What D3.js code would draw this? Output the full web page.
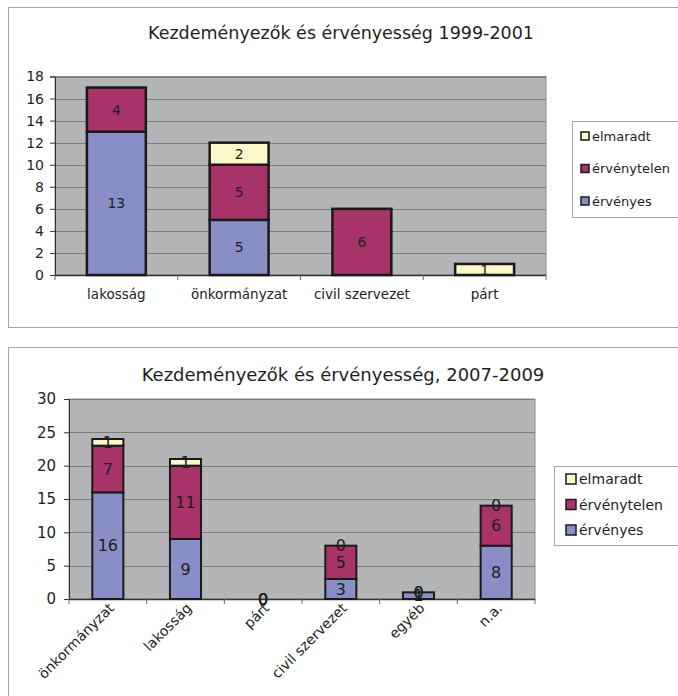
<!DOCTYPE html>
<html lang="hu">
<head>
<meta charset="UTF-8">
<title>Kezdeményezők és érvényesség</title>
<style>
    body { margin: 0; background: #fff; }
    svg text { font-family: "DejaVu Sans", sans-serif; fill: #1e1e1e; }
</style>
<script src="https://cdn.jsdelivr.net/npm/d3@7"></script>
</head>
<body>
<svg width="678" height="696"></svg>
<script>
// --- data, top chart (1999-2001)
var catsA = ["lakosság", "önkormányzat", "civil szervezet", "párt"];
var ervenyesA = [13, 5, 0, 0];
var ervenytelenA = [4, 5, 6, 0];
var elmaradtA = [0, 2, 0, 1];
var ticksA = [0, 2, 4, 6, 8, 10, 12, 14, 16, 18];

// --- data, bottom chart (2007-2009)
var catsB = ["önkormányzat", "lakosság", "párt", "civil szervezet", "egyéb", "n.a."];
var ervenyesB = [16, 9, 0, 3, 1, 8];
var ervenytelenB = [7, 11, 0, 5, 0, 6];
var elmaradtB = [1, 1, 0, 0, 0, 0];
var ticksB = [0, 5, 10, 15, 20, 25, 30];

var seriesNames = ["érvényes", "érvénytelen", "elmaradt"];
var colors = { "érvényes": "#8a8ec6", "érvénytelen": "#a83368", "elmaradt": "#fbf9c9" };

var svg = d3.select("svg");
var defs = svg.append("defs");

function drawChart(o) {
    var g = svg.append("g");

    // outer frame
    g.append("rect")
        .attr("x", o.frame[0] + 0.5).attr("y", o.frame[1] + 0.5)
        .attr("width", o.frame[2]).attr("height", o.frame[3])
        .attr("fill", "#fff").attr("stroke", "#a6a6a6");

    g.append("text")
        .attr("x", o.titleX).attr("y", o.titleY)
        .attr("text-anchor", "middle")
        .style("font-size", o.titleFont + "px")
        .text(o.title);

    var x = d3.scaleBand().domain(o.cats).range([o.left, o.right]);
    var y = d3.scaleLinear().domain([0, o.max]).range([o.bottom, o.top]);

    // plot background
    g.append("rect")
        .attr("x", o.left).attr("y", o.top)
        .attr("width", o.right - o.left).attr("height", o.bottom - o.top)
        .attr("fill", "#b4b5b7").attr("stroke", "#8c8c8c");

    // gridlines
    g.append("g").selectAll("line")
        .data(o.ticks.slice(1))
        .enter().append("line")
        .attr("x1", o.left).attr("x2", o.right)
        .attr("y1", function (d) { return Math.round(y(d)) + 0.5; })
        .attr("y2", function (d) { return Math.round(y(d)) + 0.5; })
        .attr("stroke", "#7c7c7c").attr("stroke-width", 1);

    // y axis
    var yAxis = g.append("g")
        .attr("transform", "translate(" + o.left + ",0)")
        .call(d3.axisLeft(y).tickValues(o.ticks).tickSize(5).tickPadding(o.yPad));
    yAxis.select(".domain").attr("stroke", "#333");
    yAxis.selectAll(".tick line").attr("stroke", "#333");
    yAxis.selectAll("text").style("font-size", o.axisFont + "px").attr("fill", "#1e1e1e");

    // x axis line and boundary ticks
    g.append("line")
        .attr("x1", o.left).attr("x2", o.right)
        .attr("y1", o.bottom + 0.5).attr("y2", o.bottom + 0.5)
        .attr("stroke", "#333").attr("stroke-width", 1.5);
    var bounds = o.cats.map(function (c) { return x(c); }).concat([o.right]);
    g.append("g").selectAll("line")
        .data(bounds)
        .enter().append("line")
        .attr("x1", function (d) { return d; }).attr("x2", function (d) { return d; })
        .attr("y1", o.bottom).attr("y2", o.bottom + 5)
        .attr("stroke", "#666");

    // stacked bars
    var rows = o.cats.map(function (c, i) {
        return { cat: c, "érvényes": o.v[0][i], "érvénytelen": o.v[1][i], "elmaradt": o.v[2][i] };
    });
    var stack = d3.stack().keys(seriesNames)(rows);
    var bw = x.bandwidth() * o.barFrac;
    var off = (x.bandwidth() - bw) / 2;

    stack.forEach(function (s) {
        s.forEach(function (d) {
            var val = d[1] - d[0];
            if (val <= 0) return;
            g.append("rect")
                .attr("x", x(d.data.cat) + off).attr("y", y(d[1]))
                .attr("width", bw).attr("height", y(d[0]) - y(d[1]))
                .attr("fill", colors[s.key])
                .attr("stroke", "#1a1a1a").attr("stroke-width", o.barStroke);
        });
    });
    // value labels
    stack.forEach(function (s, si) {
        s.forEach(function (d, i) {
            var val = d[1] - d[0];
            if (val === 0 && !o.showZero) return;
            var t = g.append("text")
                .attr("x", x(d.data.cat) + x.bandwidth() / 2)
                .attr("y", y((d[0] + d[1]) / 2))
                .attr("dy", "0.36em")
                .attr("text-anchor", "middle")
                .style("font-size", o.labelFont + "px")
                .text(val);
            if (o.clip) {
                var id = "clip-" + o.id + "-" + si + "-" + i;
                defs.append("clipPath").attr("id", id)
                    .append("rect")
                    .attr("x", x(d.data.cat) + off).attr("y", y(d[1]))
                    .attr("width", bw).attr("height", y(d[0]) - y(d[1]));
                t.attr("clip-path", "url(#" + id + ")");
            }
        });
    });

    // category labels
    var labG = g.append("g").selectAll("g")
        .data(o.cats)
        .enter().append("g");
    if (o.rotate) {
        labG.attr("transform", function (d) {
            return "translate(" + (x(d) + x.bandwidth() / 2 + 7) + "," + (o.bottom + 10) + ")";
        });
        labG.append("text")
            .attr("x", 0).attr("y", 0)
            .attr("text-anchor", "end")
            .attr("transform", "rotate(-45)")
            .style("font-size", o.catFont + "px")
            .text(function (d) { return d; });
    } else {
        labG.append("text")
            .attr("text-anchor", "middle")
            .attr("x", function (d) { return x(d) + x.bandwidth() / 2; })
            .attr("y", o.bottom + 24)
            .style("font-size", o.catFont + "px")
            .text(function (d) { return d; });
    }

    // legend
    var lg = g.append("g");
    lg.append("rect")
        .attr("x", o.legend.x + 0.5).attr("y", o.legend.y + 0.5)
        .attr("width", 200).attr("height", o.legend.h)
        .attr("fill", "#fff").attr("stroke", "#a6a6a6");
    var legendOrder = ["elmaradt", "érvénytelen", "érvényes"];
    legendOrder.forEach(function (k, i) {
        var cy = o.legend.y + o.legend.first + i * o.legend.step;
        lg.append("rect")
            .attr("x", o.legend.x + o.legend.mx).attr("y", cy - o.legend.ms / 2)
            .attr("width", o.legend.ms).attr("height", o.legend.ms)
            .attr("fill", colors[k]).attr("stroke", "#1a1a1a").attr("stroke-width", 1.5);
        lg.append("text")
            .attr("x", o.legend.x + o.legend.mx + o.legend.ms + 3).attr("y", cy)
            .attr("dy", "0.36em")
            .style("font-size", o.legend.font + "px")
            .text(k);
    });
}

drawChart({
    id: "a",
    frame: [8, 7, 700, 320],
    title: "Kezdeményezők és érvényesség 1999-2001",
    titleX: 341, titleY: 39, titleFont: 17.5,
    cats: catsA, v: [ervenyesA, ervenytelenA, elmaradtA],
    max: 18, ticks: ticksA,
    left: 55, right: 546, top: 76.5, bottom: 275,
    barFrac: 0.48, barStroke: 2.5,
    axisFont: 14, labelFont: 14, catFont: 13.5, yPad: 6,
    showZero: false, clip: true, rotate: false,
    legend: { x: 572, y: 121, h: 96, first: 15, step: 32.5, mx: 9, ms: 8, font: 13 }
});

drawChart({
    id: "b",
    frame: [8, 347, 700, 400],
    title: "Kezdeményezők és érvényesség, 2007-2009",
    titleX: 343, titleY: 381, titleFont: 18,
    cats: catsB, v: [ervenyesB, ervenytelenB, elmaradtB],
    max: 30, ticks: ticksB,
    left: 69, right: 535, top: 399, bottom: 599,
    barFrac: 0.4, barStroke: 2,
    axisFont: 15, labelFont: 16, catFont: 14, yPad: 8,
    showZero: true, clip: false, rotate: true,
    legend: { x: 554, y: 466, h: 79, first: 13, step: 25.5, mx: 12, ms: 10, font: 14 }
});
</script>
</body>
</html>
